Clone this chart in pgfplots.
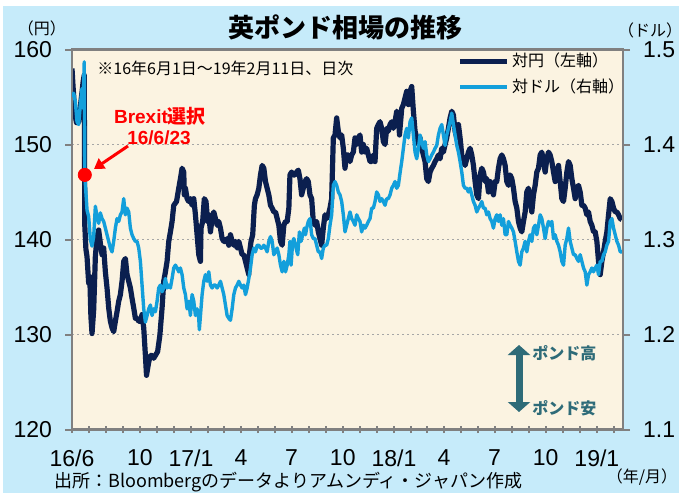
\documentclass[border=0pt]{standalone}
\usepackage{fontspec}
\setmainfont{Liberation Sans}
\newfontfamily\jp{Noto Sans CJK JP}
\usepackage{pgfplots}
\usepackage{pgfplotstable}
\pgfplotsset{compat=1.18}
\usetikzlibrary{arrows.meta}
\definecolor{bgblue}{HTML}{C6EBFA}
\definecolor{plotbg}{HTML}{FBF3E1}
\definecolor{navy}{HTML}{0B1F4F}
\definecolor{skyb}{HTML}{139FDB}
\definecolor{axgray}{HTML}{808080}
\definecolor{teal2}{HTML}{2E6B78}
\definecolor{gridgray}{HTML}{A6A6A6}

\pgfplotstableread{
day yen
0 158.0
2 156.0
4 154.3
6 153.0
8 152.3
10 152.8
12 152.4
14 153.3
16 154.5
18 155.5
20 156.6
22 157.3
23 141.5
25 139.0
27 138.2
30 135.4
32 136.1
34 131.9
36 130.1
39 132.6
42 138.2
45 140.3
48 141.0
51 139.6
54 138.4
57 139.1
60 136.6
63 134.9
66 132.8
69 131.4
72 130.7
75 130.3
78 131.4
81 132.4
84 133.5
87 134.2
90 135.6
93 137.7
96 138.0
99 136.3
102 135.6
105 134.9
108 133.8
111 132.8
114 131.7
117 131.7
120 131.4
123 131.4
126 132.1
129 130.7
132 127.8
134 125.7
138 127.1
141 127.8
144 127.8
147 127.5
150 127.8
154 128.2
158 129.9
162 132.8
165 135.6
168 136.6
171 137.7
174 139.8
177 140.8
180 141.9
183 143.6
188 144.0
192 145.4
195 146.4
198 147.5
201 147.1
202 144.7
204 145.4
207 144.3
210 144.0
213 144.3
216 143.6
219 144.3
222 142.6
225 140.5
228 138.4
231 137.7
232 141.2
235 141.9
238 144.3
241 144.0
244 141.9
246 142.6
249 140.8
252 142.2
255 142.9
258 142.2
261 141.5
264 141.9
267 141.2
270 140.1
273 139.8
276 139.8
279 140.1
282 139.4
285 140.5
288 139.8
291 139.4
294 139.8
297 139.1
300 139.8
303 139.1
306 138.4
309 138.4
312 137.7
315 137.0
318 136.3
319 138.4
322 139.8
325 140.5
328 143.6
330 144.3
333 144.7
336 145.4
339 146.8
342 147.8
345 147.5
348 146.1
351 145.4
354 144.7
357 143.6
360 143.3
363 142.9
366 142.9
369 142.2
372 141.5
375 139.8
378 139.4
381 141.5
384 141.9
387 141.9
390 143.3
392 146.8
395 147.1
398 146.8
401 146.8
404 147.1
407 147.3
410 146.4
413 144.7
416 145.4
419 146.1
422 146.4
425 146.1
428 144.7
431 144.3
434 141.9
437 141.5
440 141.9
443 140.8
446 140.1
449 139.4
452 141.2
455 142.6
458 142.2
461 142.6
464 143.3
467 144.3
470 150.7
473 151.0
476 152.8
479 151.4
482 150.7
485 151.0
488 149.6
491 147.5
494 148.9
497 148.9
500 148.2
503 148.9
506 149.2
509 150.7
512 150.0
515 150.7
518 151.0
521 149.2
524 150.0
527 149.2
530 149.6
533 148.9
536 148.2
539 148.2
542 148.9
545 148.2
548 151.7
551 152.1
554 152.4
557 151.7
560 150.3
563 150.0
566 151.7
569 151.4
572 152.1
575 152.4
578 151.7
581 152.4
584 153.5
587 153.1
589 151.0
593 153.8
596 154.2
599 154.9
602 155.6
605 154.2
608 155.6
611 156.1
614 153.5
617 151.4
620 150.7
623 150.0
626 150.7
629 149.6
632 148.9
635 148.2
638 146.4
641 146.1
644 147.1
647 147.5
650 147.8
653 148.2
656 148.5
659 148.9
662 148.5
665 149.6
668 149.2
671 150.0
674 150.7
677 151.7
680 152.8
683 153.5
686 153.1
689 151.4
692 150.7
695 152.1
698 150.7
701 148.9
704 148.2
707 147.8
710 148.5
713 149.2
716 149.6
719 148.9
722 147.8
725 146.1
728 144.7
731 144.3
734 146.8
737 147.5
740 147.1
743 146.1
746 146.4
749 145.0
752 146.1
755 145.4
758 144.7
761 146.1
764 146.1
767 147.5
770 148.5
773 148.9
776 148.5
779 147.8
782 146.1
785 145.7
788 146.8
791 146.4
794 145.4
797 144.0
800 143.3
803 141.9
806 141.2
809 140.8
812 141.9
815 142.9
818 145.0
821 145.4
824 144.0
827 142.9
830 144.7
833 145.7
836 147.1
839 147.5
842 148.9
845 149.2
848 148.2
851 147.1
854 148.5
857 149.2
860 148.9
863 148.2
866 147.1
869 146.1
872 146.8
875 147.8
878 146.1
881 144.3
884 144.0
887 145.4
890 147.1
893 148.2
896 147.8
899 146.4
902 145.4
905 144.3
908 145.4
911 145.7
914 145.0
917 143.6
920 143.6
923 143.3
926 142.6
929 142.9
932 141.9
935 141.5
938 140.8
941 140.8
944 139.8
947 137.7
950 136.3
953 137.7
956 138.7
959 139.8
962 140.8
965 142.6
968 144.3
971 144.0
974 143.3
977 142.9
980 142.9
983 142.6
986 142.2
989 142.1
}\yentable

\pgfplotstableread{
day usd
0 1.450
3 1.454
6 1.445
9 1.424
12 1.421
15 1.442
18 1.459
20 1.438
22 1.487
23 1.368
27 1.331
30 1.324
33 1.300
36 1.293
39 1.303
42 1.335
45 1.324
48 1.317
51 1.328
54 1.322
57 1.319
60 1.312
63 1.305
66 1.298
69 1.291
72 1.287
75 1.298
78 1.312
81 1.322
84 1.319
87 1.326
90 1.329
93 1.343
96 1.326
99 1.333
102 1.329
105 1.312
108 1.305
111 1.301
114 1.298
117 1.298
120 1.291
123 1.277
126 1.252
129 1.227
132 1.213
135 1.220
138 1.227
141 1.231
144 1.220
147 1.227
150 1.224
153 1.235
156 1.249
159 1.252
162 1.245
165 1.249
168 1.259
171 1.249
174 1.252
177 1.249
180 1.259
183 1.270
186 1.273
189 1.270
192 1.266
195 1.270
198 1.263
201 1.249
204 1.242
207 1.227
210 1.235
213 1.220
216 1.242
219 1.235
222 1.220
225 1.227
228 1.217
229 1.205
232 1.227
234 1.242
237 1.256
240 1.263
243 1.256
246 1.266
249 1.252
252 1.249
255 1.252
258 1.252
261 1.249
264 1.252
267 1.256
270 1.249
273 1.242
276 1.231
279 1.220
282 1.217
285 1.215
288 1.227
291 1.242
294 1.249
297 1.252
300 1.256
303 1.252
306 1.249
309 1.252
312 1.242
315 1.249
318 1.259
321 1.270
324 1.284
327 1.291
330 1.287
333 1.294
336 1.294
339 1.291
342 1.291
345 1.294
348 1.291
351 1.287
354 1.298
357 1.303
360 1.298
363 1.284
366 1.287
369 1.291
372 1.284
375 1.273
378 1.266
381 1.277
384 1.266
387 1.273
390 1.284
392 1.298
394 1.273
397 1.298
399 1.301
403 1.291
406 1.284
409 1.308
412 1.298
415 1.305
418 1.312
420 1.305
422 1.312
425 1.319
428 1.322
431 1.305
434 1.301
437 1.301
440 1.294
443 1.287
446 1.287
449 1.280
452 1.291
455 1.294
458 1.294
461 1.301
464 1.315
467 1.326
470 1.357
473 1.361
476 1.357
479 1.350
482 1.347
485 1.340
488 1.326
491 1.308
494 1.315
497 1.322
500 1.329
503 1.322
506 1.319
509 1.315
512 1.326
515 1.322
518 1.319
521 1.308
524 1.315
527 1.312
530 1.315
533 1.319
536 1.322
539 1.333
542 1.333
545 1.340
548 1.350
551 1.347
554 1.340
557 1.343
560 1.340
563 1.336
566 1.343
569 1.343
572 1.347
575 1.354
578 1.357
581 1.361
584 1.354
587 1.357
590 1.370
593 1.382
596 1.396
599 1.410
602 1.417
605 1.407
608 1.424
611 1.428
614 1.410
617 1.392
620 1.385
623 1.396
626 1.410
629 1.403
632 1.396
635 1.403
638 1.389
641 1.382
644 1.385
647 1.389
650 1.392
653 1.396
656 1.399
659 1.410
662 1.417
665 1.421
668 1.410
671 1.399
674 1.410
677 1.417
680 1.424
683 1.433
686 1.421
689 1.410
692 1.399
695 1.392
698 1.382
701 1.371
704 1.357
707 1.354
710 1.354
713 1.350
716 1.354
719 1.347
722 1.340
725 1.336
728 1.329
731 1.333
734 1.336
737 1.340
740 1.333
743 1.333
746 1.326
749 1.329
752 1.322
755 1.319
758 1.312
761 1.322
764 1.326
767 1.319
770 1.326
773 1.315
776 1.322
779 1.305
782 1.305
785 1.319
788 1.315
791 1.312
794 1.308
797 1.298
800 1.287
803 1.277
806 1.273
809 1.287
812 1.291
815 1.298
818 1.287
821 1.298
824 1.305
827 1.298
830 1.312
833 1.315
836 1.305
839 1.315
842 1.326
845 1.322
848 1.312
851 1.301
854 1.312
857 1.319
860 1.315
863 1.319
866 1.301
869 1.305
872 1.298
875 1.294
878 1.287
881 1.277
884 1.273
887 1.294
890 1.301
893 1.312
896 1.298
899 1.291
902 1.284
905 1.284
908 1.280
911 1.277
914 1.284
917 1.277
920 1.270
923 1.266
926 1.252
929 1.263
932 1.266
935 1.270
938 1.266
941 1.270
944 1.273
947 1.263
950 1.277
953 1.277
956 1.284
959 1.287
962 1.294
965 1.298
968 1.319
971 1.322
974 1.312
977 1.305
980 1.298
983 1.294
986 1.287
989 1.287
}\usdtable

\pgfplotsset{
  common/.style={
    at={(36pt,31.75pt)}, anchor=south west, scale only axis,
    width=275.5pt, height=190pt,
    xmin=0, xmax=991,
    axis line style={axgray, line width=1.25pt},
    tick style={axgray, line width=1pt},
    major tick length=3.5pt,
    tick align=outside,
    /pgf/number format/assume math mode=true,
    ticklabel style={font=\fontsize{11.5}{13}\selectfont},
  }
}

\begin{document}
\begin{tikzpicture}
\useasboundingbox (0pt,0pt) rectangle (339.5pt,246.5pt);
\clip (0pt,0pt) rectangle (339.5pt,246.5pt);
\fill[white] (0pt,0pt) rectangle (339.5pt,246.5pt);
\fill[bgblue] (1.5pt,0pt) rectangle (339.5pt,243.5pt);

\begin{axis}[common,
  ymin=120, ymax=160, ytick={120,130,140,150,160},
  ytick pos=left, xtick pos=lower,
  axis background/.style={fill=plotbg},
  ymajorgrids,
  major grid style={gridgray, dash pattern=on 1pt off 1.5pt, line width=0.6pt},
  xtick={0,30,61,92,122,153,183,214,245,273,304,334,365,395,426,457,487,518,548,579,610,638,669,699,730,760,791,822,852,883,913,944,975},
  xticklabels={16/6,,,,10,,,17/1,,,4,,,7,,,10,,,18/1,,,4,,,7,,,10,,,19/1,},
  every x tick/.append style={yshift=1.75pt},
  xticklabel style={yshift=-3pt},
  yticklabel style={xshift=-3pt},
]
\addplot[navy, line width=2.6pt, line join=round] table[x=day, y=yen] {\yentable};
\end{axis}

\begin{axis}[common,
  ymin=1.1, ymax=1.5, ytick={1.1,1.2,1.3,1.4,1.5},
  ytick pos=right, hide x axis,
  yticklabel style={/pgf/number format/fixed, /pgf/number format/fixed zerofill, /pgf/number format/precision=1, xshift=3pt},
  legend style={at={(rel axis cs:0.699,0.997)}, anchor=north west,
    draw=none, fill=none, inner sep=0pt, row sep=2.5pt,
    nodes={inner xsep=1.2pt, inner ysep=1pt},
    font=\jp\fontsize{8}{9}\selectfont, cells={anchor=west}},
  legend image code/.code={\draw[#1] (0pt,0pt) -- (23.5pt,0pt);},
  clip mode=individual,
]
\addlegendimage{navy, line width=2.6pt}
\addlegendentry{対円（左軸）}
\addplot[skyb, line width=1.7pt, line join=round] table[x=day, y=usd] {\usdtable};
\addlegendentry{対ドル（右軸）}
\addplot[only marks, mark=*, mark size=3.3pt, color=red, forget plot] coordinates {(23,1.368)};
\end{axis}

% texts
\node[font=\jp\bfseries\fontsize{13}{15}\selectfont, inner sep=0pt] at (172.5pt,233pt) {英ポンド相場の推移};
\node[font=\jp\fontsize{8}{9}\selectfont, inner sep=0pt] at (21pt,232.5pt) {（円）};
\node[font=\jp\fontsize{8}{9}\selectfont, inner sep=0pt] at (325pt,231.5pt) {（ドル）};
\node[font=\jp\fontsize{8}{9}\selectfont, inner sep=0pt] at (321pt,8pt) {（年/月）};
\node[font=\jp\fontsize{9}{10}\selectfont, inner sep=0pt, anchor=west] at (27pt,5.5pt) {出所：Bloombergのデータよりアムンディ・ジャパン作成};
\node[font=\jp\fontsize{8}{9}\selectfont, inner sep=0pt, anchor=west] at (48.5pt,212.5pt) {※16年6月1日～19年2月11日、日次};
\node[font=\bfseries\fontsize{9.5}{11}\selectfont, text=red, inner sep=0pt] at (80pt,188.5pt) {Brexit{\jp\bfseries 選択}};
\node[font=\bfseries\fontsize{9.5}{11}\selectfont, text=red, inner sep=0pt] at (79.5pt,177.5pt) {16/6/23};
\draw[red, line width=1.5pt, -{Triangle[length=5pt,width=6pt]}] (64pt,173.5pt) -- (47pt,162pt);
\draw[teal2, line width=3.5pt, {Triangle[length=5pt,width=11pt]}-{Triangle[length=5pt,width=11pt]}] (259.5pt,74pt) -- (259.5pt,40.5pt);
\node[font=\jp\bfseries\fontsize{8}{9}\selectfont, text=teal2, inner sep=0pt, anchor=west] at (266pt,70pt) {ポンド高};
\node[font=\jp\bfseries\fontsize{8}{9}\selectfont, text=teal2, inner sep=0pt, anchor=west] at (266pt,42.5pt) {ポンド安};
\end{tikzpicture}
\end{document}
